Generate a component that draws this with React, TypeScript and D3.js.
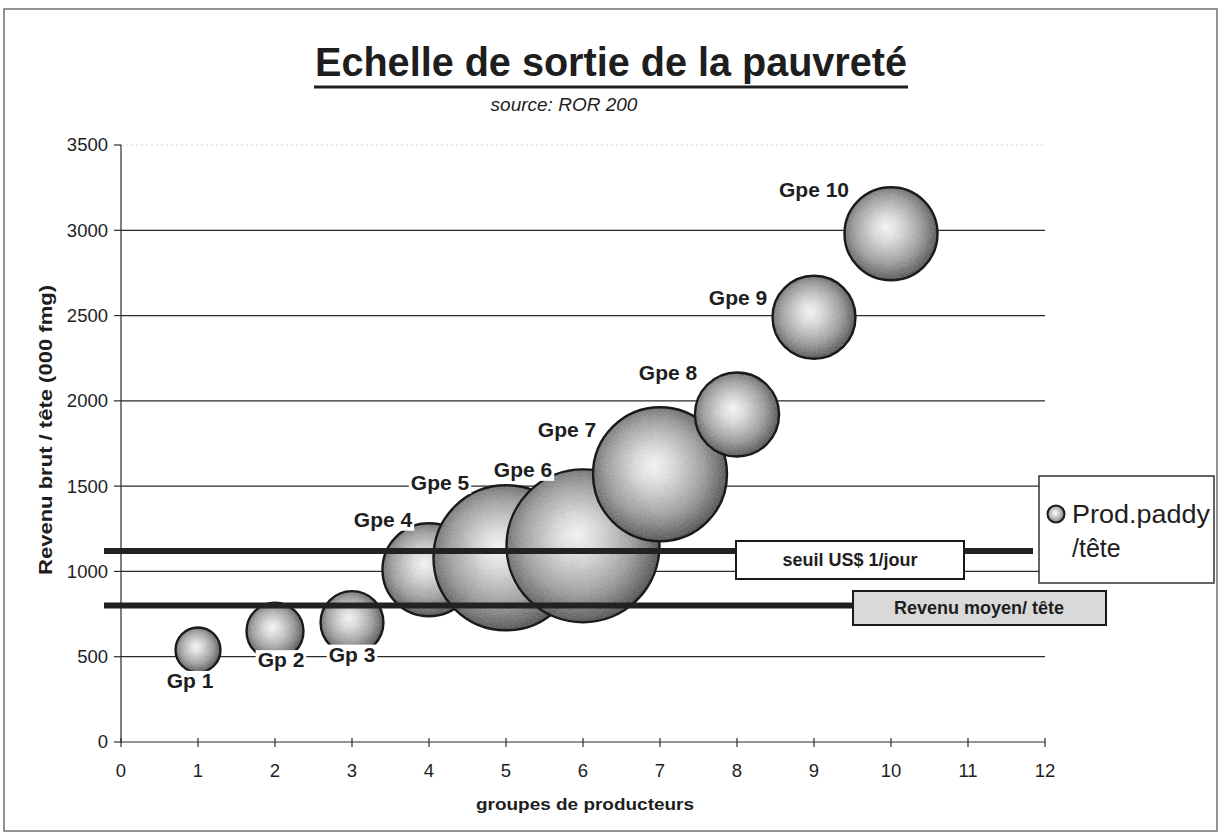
import React from "react";
import * as d3 from "d3";

// ---- data ----
const groups = ["Gp 1", "Gp 2", "Gp 3", "Gpe 4", "Gpe 5", "Gpe 6", "Gpe 7", "Gpe 8", "Gpe 9", "Gpe 10"];
const groupX = [1, 2, 3, 4, 5, 6, 7, 8, 9, 10];
const revenuBrut = [540, 650, 700, 1010, 1080, 1150, 1570, 1920, 2490, 2980];
const prodPaddy = [510, 820, 1000, 2190, 5320, 5920, 4540, 1790, 1740, 2190];
const xTicks = [0, 1, 2, 3, 4, 5, 6, 7, 8, 9, 10, 11, 12];
const yTicks = [0, 500, 1000, 1500, 2000, 2500, 3000, 3500];
const seuilValue = 1120;
const revenuMoyenValue = 800;

// ---- layout (label offsets in px from bubble centre) ----
const labelOffsets: [number, number][] = [
  [-8, 38], [6, 36], [0, 39], [-46, -43], [-66, -68],
  [-60, -69], [-93, -37], [-69, -35], [-76, -12], [-77, -37],
];

const FONT = "'Liberation Sans', Arial, Helvetica, sans-serif";
const INK = "#1e1e1e";

export default function App() {
  const x = d3.scaleLinear().domain([0, 12]).range([121, 1045]);
  const y = d3.scaleLinear().domain([0, 3500]).range([742, 145]);
  const r = d3.scaleSqrt().domain([0, 6000]).range([0, 77]);

  const labelFont = 21;
  const measure = (s: string) => {
    const w: Record<string, number> = { G: 0.778, p: 0.611, e: 0.556, " ": 0.278 };
    return s.split("").reduce((a, c) => a + (w[c] ?? 0.556), 0) * labelFont;
  };

  return (
    <svg width={1225} height={838} style={{ position: "absolute", left: 0, top: 0, display: "block", background: "#fff" }} fontFamily={FONT}>
      <defs>
        <radialGradient id="bub" cx="47%" cy="47%" r="55%" fx="45%" fy="43%">
          <stop offset="0%" stopColor="#fbfbfb" />
          <stop offset="25%" stopColor="#e4e4e4" />
          <stop offset="65%" stopColor="#b0b0b0" />
          <stop offset="100%" stopColor="#727272" />
        </radialGradient>
        <filter id="grain" x="0%" y="0%" width="100%" height="100%">
          <feTurbulence type="fractalNoise" baseFrequency="0.9" numOctaves={2} seed={4} result="noise" />
          <feColorMatrix in="noise" type="saturate" values="0" result="gnoise" />
          <feComposite in="SourceGraphic" in2="gnoise" operator="arithmetic" k1={0} k2={1} k3={0.35} k4={-0.17} result="mix" />
          <feComposite in="mix" in2="SourceGraphic" operator="in" />
        </filter>
      </defs>

      {/* outer frame */}
      <rect x={4} y={9} width={1213} height={822} fill="#fff" stroke="#707070" strokeWidth={1.5} />

      {/* title */}
      <text x={611} y={76} textAnchor="middle" fontSize={40} fontWeight="bold" fill={INK} textLength={592} lengthAdjust="spacingAndGlyphs">
        Echelle de sortie de la pauvreté
      </text>
      <line x1={314} x2={908} y1={87} y2={87} stroke={INK} strokeWidth={3} />
      <text x={564} y={111} textAnchor="middle" fontSize={19} fontStyle="italic" fill={INK}>
        source: ROR 200
      </text>

      {/* top faint border of plot */}
      <line x1={x(0)} x2={x(12)} y1={y(3500)} y2={y(3500)} stroke="#d6d6d6" strokeDasharray="2,3" />

      {/* gridlines */}
      {yTicks.filter((t) => t > 0 && t < 3500).map((t) => (
        <line key={"g" + t} x1={x(0)} x2={x(12)} y1={y(t)} y2={y(t)} stroke="#2a2a2a" strokeWidth={1.2} />
      ))}

      {/* y axis */}
      <line x1={x(0)} x2={x(0)} y1={y(3500)} y2={y(0)} stroke="#2a2a2a" strokeWidth={1.2} />
      {yTicks.map((t) => (
        <g key={"yt" + t}>
          <line x1={x(0) - 7} x2={x(0)} y1={y(t)} y2={y(t)} stroke="#2a2a2a" strokeWidth={1.2} />
          <text x={x(0) - 13} y={y(t)} dy="0.35em" textAnchor="end" fontSize={18.5} fill={INK}>{t}</text>
        </g>
      ))}

      {/* x axis */}
      <line x1={x(0)} x2={x(12)} y1={y(0)} y2={y(0)} stroke="#2a2a2a" strokeWidth={1.2} />
      {xTicks.map((t) => (
        <g key={"xt" + t}>
          <line x1={x(t)} x2={x(t)} y1={y(0) - 4} y2={y(0) + 5} stroke="#2a2a2a" strokeWidth={1.2} />
          <text x={x(t)} y={777} textAnchor="middle" fontSize={18.5} fill={INK}>{t}</text>
        </g>
      ))}

      {/* axis titles */}
      <text x={585} y={810} textAnchor="middle" fontSize={17} fontWeight="bold" fill={INK} textLength={218} lengthAdjust="spacingAndGlyphs">
        groupes de producteurs
      </text>
      <text transform={`translate(52,${430}) rotate(-90)`} textAnchor="middle" fontSize={18} fontWeight="bold" fill={INK} textLength={290} lengthAdjust="spacingAndGlyphs">
        Revenu brut / tête (000 fmg)
      </text>

      {/* bubbles */}
      {groupX.map((gx, i) => (
        <g key={"b" + i}>
          <circle cx={x(gx)} cy={y(revenuBrut[i])} r={r(prodPaddy[i])} fill="url(#bub)" filter="url(#grain)" />
          <circle cx={x(gx)} cy={y(revenuBrut[i])} r={r(prodPaddy[i])} fill="none" stroke="#1a1a1a" strokeWidth={2.4} />
        </g>
      ))}

      {/* threshold lines */}
      <line x1={104} x2={1033} y1={y(seuilValue)} y2={y(seuilValue)} stroke="#222" strokeWidth={6} />
      <line x1={104} x2={900} y1={y(revenuMoyenValue)} y2={y(revenuMoyenValue)} stroke="#222" strokeWidth={6} />

      {/* threshold label boxes */}
      <rect x={736} y={541} width={228} height={38} fill="#fff" stroke="#1a1a1a" strokeWidth={2} />
      <text x={850} y={560} dy="0.35em" textAnchor="middle" fontSize={18} fontWeight="bold" fill={INK}>seuil  US$ 1/jour</text>
      <rect x={853} y={591} width={253} height={34} fill="#d9d9d9" stroke="#1a1a1a" strokeWidth={2} />
      <text x={979} y={608} dy="0.35em" textAnchor="middle" fontSize={18} fontWeight="bold" fill={INK}>Revenu moyen/ tête</text>

      {/* bubble labels */}
      {groups.map((g, i) => {
        const cx = x(groupX[i]) + labelOffsets[i][0];
        const by = y(revenuBrut[i]) + labelOffsets[i][1];
        const w = measure(g);
        return (
          <g key={"l" + i}>
            <rect x={cx - w / 2 - 2} y={by - 17} width={w + 4} height={21} fill="#fff" />
            <text x={cx} y={by} textAnchor="middle" fontSize={labelFont} fontWeight="bold" fill={INK}>{g}</text>
          </g>
        );
      })}

      {/* legend */}
      <rect x={1039} y={476} width={175} height={107} fill="#fff" stroke="#333" strokeWidth={1.5} />
      <circle cx={1056} cy={514} r={8.5} fill="url(#bub)" stroke="#1a1a1a" strokeWidth={2} />
      <text x={1072} y={523} fontSize={25} fill={INK} textLength={138} lengthAdjust="spacingAndGlyphs">Prod.paddy</text>
      <text x={1072} y={557} fontSize={25} fill={INK}>/tête</text>
    </svg>
  );
}
